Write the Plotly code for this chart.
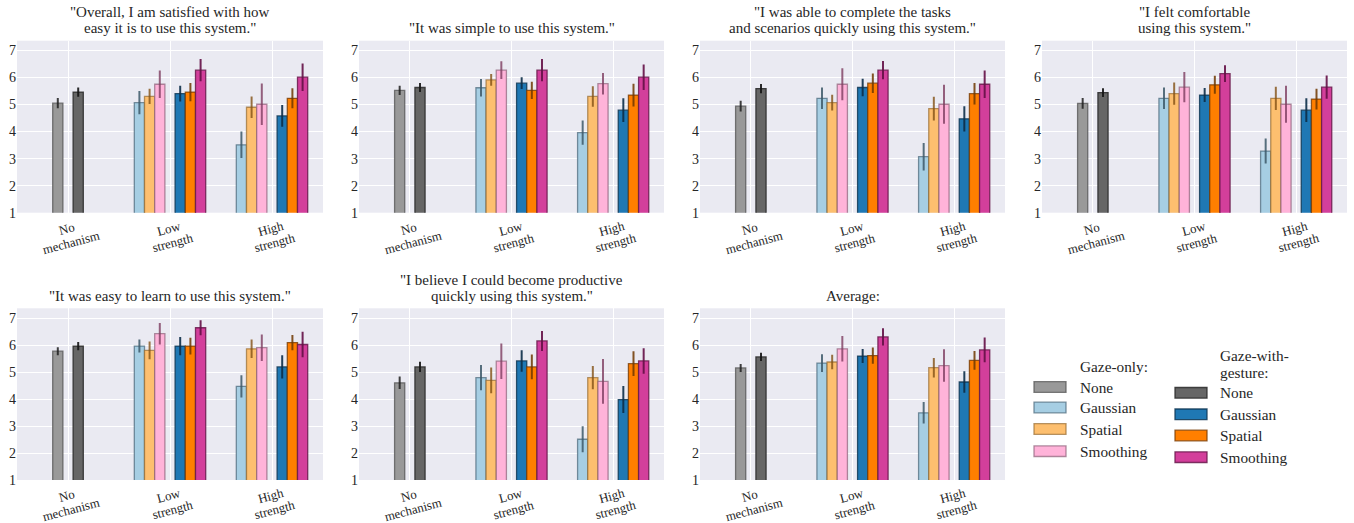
import math
import plotly.graph_objects as go

# ---------------- data ----------------
panel_titles = [
    '"Overall, I am satisfied with how<br>easy it is to use this system."',
    '"It was simple to use this system."',
    '"I was able to complete the tasks<br>and scenarios quickly using this system."',
    '"I felt comfortable<br>using this system."',
    '"It was easy to learn to use this system."',
    '"I believe I could become productive<br>quickly using this system."',
    'Average:',
]
group_labels = ["No<br>mechanism", "Low<br>strength", "High<br>strength"]
y_ticks = [1, 2, 3, 4, 5, 6, 7]
legend_labels = ["None", "Gaussian", "Spatial", "Smoothing"]

# "No mechanism" condition, one value per panel
only_none_mean = [5.05, 5.52, 4.94, 5.04, 5.77, 4.60, 5.15]
only_none_err = [0.19, 0.17, 0.20, 0.20, 0.15, 0.23, 0.15]
gest_none_mean = [5.46, 5.63, 5.59, 5.44, 5.96, 5.19, 5.56]
gest_none_err = [0.17, 0.17, 0.17, 0.16, 0.15, 0.19, 0.15]

# mechanisms: per panel [low strength, high strength]
only_gauss_mean = [[5.07, 3.51], [5.62, 3.96], [5.23, 3.07], [5.23, 3.28], [5.96, 4.47], [4.79, 2.51], [5.33, 3.49]]
only_gauss_err = [[0.43, 0.49], [0.32, 0.45], [0.40, 0.51], [0.40, 0.46], [0.24, 0.41], [0.47, 0.48], [0.33, 0.40]]
only_spat_mean = [[5.30, 4.90], [5.91, 5.30], [5.07, 4.85], [5.40, 5.23], [5.80, 5.86], [4.69, 4.79], [5.37, 5.16]]
only_spat_err = [[0.28, 0.40], [0.22, 0.38], [0.29, 0.44], [0.41, 0.43], [0.33, 0.34], [0.48, 0.43], [0.27, 0.36]]
only_smooth_mean = [[5.75, 5.01], [6.27, 5.77], [5.75, 5.01], [5.64, 5.01], [6.42, 5.90], [5.40, 4.65], [5.86, 5.24]]
only_smooth_err = [[0.51, 0.77], [0.33, 0.40], [0.59, 0.72], [0.56, 0.68], [0.40, 0.49], [0.66, 0.83], [0.47, 0.60]]
gest_gauss_mean = [[5.40, 4.58], [5.79, 4.79], [5.63, 4.47], [5.35, 4.79], [5.96, 5.19], [5.41, 3.98], [5.59, 4.63]]
gest_gauss_err = [[0.29, 0.40], [0.22, 0.44], [0.32, 0.47], [0.26, 0.44], [0.34, 0.43], [0.40, 0.50], [0.26, 0.40]]
gest_spat_mean = [[5.46, 5.23], [5.52, 5.35], [5.79, 5.40], [5.73, 5.20], [5.96, 6.09], [5.19, 5.31], [5.61, 5.43]]
gest_spat_err = [[0.34, 0.37], [0.32, 0.42], [0.36, 0.40], [0.33, 0.38], [0.31, 0.28], [0.46, 0.46], [0.30, 0.35]]
gest_smooth_mean = [[6.27, 6.01], [6.27, 6.01], [6.27, 5.75], [6.14, 5.64], [6.64, 6.02], [6.15, 5.41], [6.30, 5.82]]
gest_smooth_err = [[0.41, 0.51], [0.41, 0.47], [0.34, 0.51], [0.31, 0.43], [0.28, 0.47], [0.37, 0.47], [0.32, 0.46]]

# ---------------- styling ----------------
W, H = 1354, 523
FONT = "Liberation Serif"
TXT = "#262626"
BG = "#EAEAF2"

def px(x):
    return x / W

def py(y):
    return 1 - y / H

# series: (legend column, label, fill, edge, errcolor, offset, kind)
series = [
    ("only", "None", "#999999", "rgba(80,80,80,0.75)", "rgba(30,30,30,0.85)", -0.1, "none"),
    ("only", "Gaussian", "#a6cee3", "rgba(70,100,118,0.7)", "rgba(60,88,104,0.85)", -0.3, "gauss"),
    ("only", "Spatial", "#fdbf6f", "rgba(150,105,45,0.7)", "rgba(130,80,20,0.8)", -0.2, "spat"),
    ("only", "Smoothing", "#ffb3d9", "rgba(140,95,120,0.7)", "rgba(125,60,95,0.8)", -0.1, "smooth"),
    ("gest", "None", "#666666", "rgba(40,40,40,0.85)", "rgba(20,20,20,0.9)", 0.1, "none"),
    ("gest", "Gaussian", "#1f78b4", "rgba(15,55,85,0.85)", "rgba(12,45,72,0.9)", 0.1, "gauss"),
    ("gest", "Spatial", "#ff7f00", "rgba(120,60,5,0.8)", "rgba(110,55,0,0.85)", 0.2, "spat"),
    ("gest", "Smoothing", "#d33f9b", "rgba(105,25,75,0.85)", "rgba(100,15,70,0.9)", 0.3, "smooth"),
]
data_lookup = {
    ("only", "gauss"): (only_gauss_mean, only_gauss_err),
    ("only", "spat"): (only_spat_mean, only_spat_err),
    ("only", "smooth"): (only_smooth_mean, only_smooth_err),
    ("gest", "gauss"): (gest_gauss_mean, gest_gauss_err),
    ("gest", "spat"): (gest_spat_mean, gest_spat_err),
    ("gest", "smooth"): (gest_smooth_mean, gest_smooth_err),
}

# panel plot-area boxes in pixels (left, right, top, bottom)
col_x = [(17, 323), (359, 664), (700, 1005), (1042, 1347)]
row_y = [(40.7, 212.7), (308.3, 480.0)]
panel_pos = [(0, 0), (0, 1), (0, 2), (0, 3), (1, 0), (1, 1), (1, 2)]

BAR_W = 0.1
TITLE_LINE = 16.0      # px between title lines
TICK_LINE = 14.4       # px between category label lines (perpendicular)
ROT = 15.0
sinr, cosr = math.sin(math.radians(ROT)), math.cos(math.radians(ROT))

fig = go.Figure()
annotations = []
layout = {}

for p, (r, c) in enumerate(panel_pos):
    ax = "" if p == 0 else str(p + 1)
    xa, ya = "x" + ax, "y" + ax
    for col, label, fill, edge, errc, off, kind in series:
        if kind == "none":
            xs = [group_labels[0]]
            ys = [(only_none_mean if col == "only" else gest_none_mean)[p]]
            es = [(only_none_err if col == "only" else gest_none_err)[p]]
        else:
            m, e = data_lookup[(col, kind)]
            xs = group_labels[1:]
            ys = m[p]
            es = e[p]
        fig.add_trace(go.Bar(
            x=xs, y=ys, xaxis=xa, yaxis=ya,
            width=BAR_W, offset=off - BAR_W / 2,
            marker=dict(color=fill, line=dict(color=edge, width=1.3)),
            error_y=dict(type="data", array=es, color=errc, thickness=2, width=0),
            showlegend=False, name=label,
        ))
    x0, x1 = col_x[c]
    y0, y1 = row_y[r]
    layout["xaxis" + ax] = dict(
        domain=[px(x0), px(x1)], anchor=ya, type="category",
        categoryorder="array", categoryarray=group_labels,
        range=[-0.5, 2.5], showticklabels=False, showgrid=True, automargin=False,
        gridcolor="white", gridwidth=1.2, zeroline=False, showline=False, ticks="",
    )
    layout["yaxis" + ax] = dict(
        domain=[py(y1), py(y0)], anchor=xa, range=[1, 7.36], automargin=False,
        tickvals=y_ticks, showgrid=True, gridcolor="white", gridwidth=1.2,
        zeroline=False, showline=False, ticks="",
        tickfont=dict(family=FONT, size=14, color=TXT),
    )
    # title, one annotation per line for matplotlib-like line spacing
    lines = panel_titles[p].split("<br>")
    n = len(lines)
    for i, line in enumerate(lines):
        annotations.append(dict(
            text=line, xref="paper", yref="paper",
            x=px((x0 + x1) / 2), y=py(y0), xanchor="center", yanchor="middle",
            yshift=12.5 + (n - 1 - i) * TITLE_LINE, showarrow=False,
            font=dict(family=FONT, size=15, color=TXT),
        ))
    # rotated category labels, centred on the category like matplotlib
    for g in group_labels:
        glines = g.split("<br>")
        m = len(glines)
        for i, line in enumerate(glines):
            k = (i - (m - 1) / 2) * TICK_LINE
            annotations.append(dict(
                text=line, xref=xa, yref=ya + " domain", x=g, y=0,
                xanchor="center", yanchor="middle",
                xshift=1 + k * sinr, yshift=-(23.3 + k * cosr), textangle=-ROT,
                showarrow=False,
                font=dict(family=FONT, size=12.8, color=TXT),
            ))

# ---------------- manual legend ----------------
shapes = []
legend_cols = [
    ("only", ["Gaze-only:"], 1034, 1066, 1078, [387.0, 407.5, 429.0, 451.2], [366.7]),
    ("gest", ["Gaze-with-", "gesture:"], 1175, 1207, 1218, [392.8, 414.3, 435.5, 457.2], [355.0, 372.7]),
]
for col, title_lines, ix0, ix1, tx, rows, tys in legend_cols:
    for tl, ty in zip(title_lines, tys):
        annotations.append(dict(
            text=tl, xref="paper", yref="paper", x=px(tx), y=py(ty),
            xanchor="left", yanchor="middle", showarrow=False,
            font=dict(family=FONT, size=15.3, color=TXT),
        ))
    col_series = [s for s in series if s[0] == col]
    for s, lab, yc in zip(col_series, legend_labels, rows):
        shapes.append(dict(
            type="rect", xref="paper", yref="paper",
            x0=px(ix0), x1=px(ix1), y0=py(yc + 5.3), y1=py(yc - 5.3),
            fillcolor=s[2], line=dict(color=s[3], width=1.3),
        ))
        annotations.append(dict(
            text=lab, xref="paper", yref="paper", x=px(tx), y=py(yc),
            xanchor="left", yanchor="middle", showarrow=False,
            font=dict(family=FONT, size=15.3, color=TXT),
        ))

fig.update_layout(
    width=W, height=H, margin=dict(l=0, r=0, t=0, b=0, autoexpand=False),
    paper_bgcolor="white", plot_bgcolor=BG, barmode="overlay",
    annotations=annotations, shapes=shapes, showlegend=False,
    font=dict(family=FONT, color=TXT), **layout,
)

fig.write_html(
    "out.html",
    config={"displayModeBar": False},
    post_script="document.body.style.margin='0';document.body.style.overflow='hidden';",
)
